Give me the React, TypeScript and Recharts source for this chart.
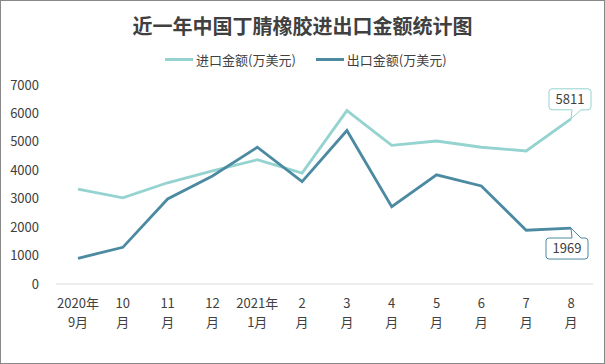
import { LineChart, Line, XAxis, YAxis } from 'recharts'

const months = ['2020年9月', '10月', '11月', '12月', '2021年1月', '2月', '3月', '4月', '5月', '6月', '7月', '8月']
const tickTop = ['2020年', '10', '11', '12', '2021年', '2', '3', '4', '5', '6', '7', '8']
const tickBottom = ['9月', '月', '月', '月', '1月', '月', '月', '月', '月', '月', '月', '月']
const importValues = [3340, 3030, 3560, 3980, 4370, 3900, 6100, 4880, 5030, 4810, 4680, 5811]
const exportValues = [905, 1290, 2990, 3800, 4810, 3600, 5400, 2720, 3840, 3450, 1890, 1969]
const yTicks = [0, 1000, 2000, 3000, 4000, 5000, 6000, 7000]

const IMPORT_NAME = '进口金额(万美元)'
const EXPORT_NAME = '出口金额(万美元)'
const IMPORT_COLOR = '#94D3D0'
const EXPORT_COLOR = '#4C8AA2'
const TEXT = '#404040'
const FONT = '"Noto Sans CJK SC", "Noto Sans", sans-serif'

const data = months.map((m, i) => ({ month: m, [IMPORT_NAME]: importValues[i], [EXPORT_NAME]: exportValues[i] }))

function MonthTick({ x, y, index }: any) {
  return (
    <g>
      <text x={x} y={y + 24} textAnchor="middle" fontSize={13} fill={TEXT} fontFamily={FONT}>
        {tickTop[index]}
      </text>
      <text x={x} y={y + 43} textAnchor="middle" fontSize={13} fill={TEXT} fontFamily={FONT}>
        {tickBottom[index]}
      </text>
    </g>
  )
}

// callout box with a small tail pointing at the last point of a series
function callout(color: string, above: boolean, last: number) {
  return (props: any) => {
    const { x, y, index, value } = props
    if (index !== last) return null
    const w = 42
    const h = 21
    const r = 3
    const left = above ? x - 22 : x - 25
    const top = above ? y - 30 : y + 10
    const right = left + w
    const bottom = top + h
    const t1 = x + 1
    const t2 = x + 10
    let d: string
    if (above) {
      d = `M${left + r},${top} H${right - r} Q${right},${top} ${right},${top + r} V${bottom - r} Q${right},${bottom} ${right - r},${bottom} H${t2} L${x},${y} L${t1},${bottom} H${left + r} Q${left},${bottom} ${left},${bottom - r} V${top + r} Q${left},${top} ${left + r},${top} Z`
    } else {
      d = `M${left + r},${top} H${t1} L${x},${y} L${t2},${top} H${right - r} Q${right},${top} ${right},${top + r} V${bottom - r} Q${right},${bottom} ${right - r},${bottom} H${left + r} Q${left},${bottom} ${left},${bottom - r} V${top + r} Q${left},${top} ${left + r},${top} Z`
    }
    return (
      <g>
        <path d={d} fill="#fff" stroke={color} strokeWidth={1} />
        <text x={left + w / 2} y={top + h / 2 + 4.5} textAnchor="middle" fontSize={13} fill={TEXT} fontFamily={FONT}>
          {value}
        </text>
      </g>
    )
  }
}

function LegendItem({ color, label }: { color: string; label: string }) {
  return (
    <span style={{ display: 'inline-flex', alignItems: 'center', marginRight: 20 }}>
      <span style={{ display: 'inline-block', width: 28, height: 3, background: color, marginRight: 3 }} />
      <span>{label}</span>
    </span>
  )
}

export default function App() {
  return (
    <div
      style={{
        position: 'absolute',
        left: 0,
        top: 0,
        width: 605,
        height: 364,
        boxSizing: 'border-box',
        border: '1px solid #888',
        background: '#fff',
        fontFamily: FONT,
        color: TEXT,
      }}
    >
      <div style={{ position: 'absolute', left: 0, right: 0, top: 10, textAlign: 'center', fontSize: 20, fontWeight: 700, color: '#404040' }}>
        近一年中国丁腈橡胶进出口金额统计图
      </div>
      <div style={{ position: 'absolute', left: 164, top: 49, fontSize: 13, whiteSpace: 'nowrap', display: 'flex' }}>
        <LegendItem color={IMPORT_COLOR} label={IMPORT_NAME} />
        <LegendItem color={EXPORT_COLOR} label={EXPORT_NAME} />
      </div>
      <div style={{ position: 'absolute', left: -1, top: -1 }}>
        <LineChart width={605} height={364} data={data} margin={{ top: 85, right: 12, left: 0, bottom: 0 }}>
          <XAxis
            dataKey="month"
            interval={0}
            height={80}
            padding={{ left: 22, right: 22 }}
            tickLine={false}
            tickSize={0}
            tickMargin={0}
            stroke="#D9D9D9"
            tick={<MonthTick />}
          />
          <YAxis
            width={56}
            domain={[0, 7000]}
            ticks={yTicks}
            axisLine={false}
            tickLine={false}
            tickSize={0}
            tickMargin={17}
            tick={{ fontSize: 13, fill: TEXT, fontFamily: FONT }}
          />
          <Line
            dataKey={IMPORT_NAME}
            stroke={IMPORT_COLOR}
            strokeWidth={2.8}
            dot={false}
            isAnimationActive={false}
            label={callout(IMPORT_COLOR, true, importValues.length - 1)}
          />
          <Line
            dataKey={EXPORT_NAME}
            stroke={EXPORT_COLOR}
            strokeWidth={2.8}
            dot={false}
            isAnimationActive={false}
            label={callout(EXPORT_COLOR, false, exportValues.length - 1)}
          />
        </LineChart>
      </div>
    </div>
  )
}
